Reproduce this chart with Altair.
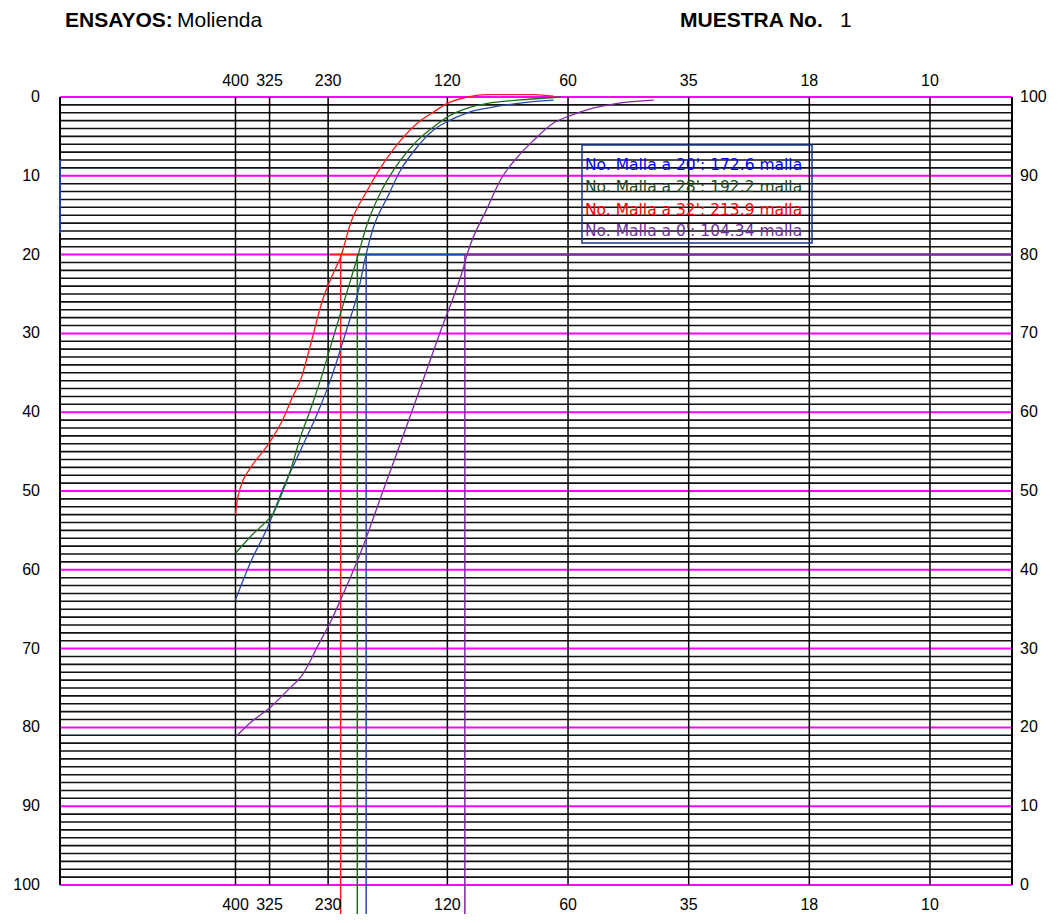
import altair as alt
import pandas as pd

# ---------------- data ----------------
mesh_labels = ["400", "325", "230", "120", "60", "35", "18", "10"]
mesh_microns = [37, 45, 63, 125, 250, 500, 1000, 2000]
x_domain = [13.5, 3204]

series_names = ["20'", "28'", "32'", "0'"]
series_colors = ["#2a48a8", "#1d6e1d", "#ff1a1a", "#7f2aa6"]

blue_um = [37, 40.3, 44.5, 48.8, 53.8, 59.3, 63.9, 70.0, 75.0, 78.1, 81.8, 88.6, 95.5,
           105.3, 115.4, 127.3, 140.4, 157.5, 187.1, 230]
blue_pass = [36.2, 40.9, 45.4, 50.5, 55.2, 59.9, 64.1, 70.4, 75.5, 79.7, 83.5, 87.3, 90.7,
             93.7, 95.8, 97.1, 98.0, 98.6, 99.2, 99.6]

green_um = [37, 40.3, 44.5, 45.8, 47.9, 50.8, 53.8, 56.9, 60.3, 65.7, 71.7, 74.6, 79.0,
            86.6, 95.5, 105.3, 115.4, 127.3, 140.4, 157.5, 187.1, 239.6]
green_pass = [42.1, 44.2, 46.3, 47.0, 49.2, 52.7, 56.9, 60.3, 64.1, 70.4, 76.8, 79.7, 84.0,
              88.6, 92.0, 94.5, 96.2, 97.7, 98.6, 99.2, 99.6, 100]

red_um = [37, 37.3, 38.1, 40.3, 44.5, 48.5, 51.3, 53.8, 56.9, 61.0, 65.0, 67.7, 71.7, 79.0,
          86.6, 95.5, 105.3, 115.4, 125.1, 140.4, 157.5, 205, 230]
red_pass = [47.0, 48.5, 50.5, 52.9, 55.8, 59.0, 61.9, 64.1, 68.5, 74.2, 77.7, 79.7, 84.0, 88.2,
            91.6, 94.5, 96.7, 98.1, 99.2, 100, 100.3, 100.3, 100.1]

purple_um = [37, 40.3, 45.3, 49.9, 54.7, 59.6, 63.9, 67.7, 74.6, 78.6, 85.1, 95.5, 107.2, 120.2,
             137.2, 140.4, 157.5, 169.7, 187.1, 205.1, 230.1, 249.4, 279.8, 332.4, 408.9]
purple_pass = [18.8, 20.6, 22.6, 24.7, 26.9, 30.5, 33.4, 36.2, 41.2, 44.2, 49.1, 56.1, 63.2, 70.3,
               78.4, 80.2, 86.0, 89.5, 92.4, 94.5, 96.7, 97.5, 98.4, 99.2, 99.6]

# P80 markers (size in microns at 80 % passing) and horizontal line start
p80_um = [78.4, 74.5, 67.7, 138.2]
p80_hstart = [78.4, 74.5, 63.9, 138.2]
p80_level = 80

legend_texts = ["No. Malla a 20': 172.6 malla",
                "No. Malla a 28': 192.2 malla",
                "No. Malla a 32': 213.9 malla",
                "No. Malla a 0': 104.34 malla"]
legend_colors = ["#0000ff", "#1f4a1f", "#ff0000", "#7030a0"]

left_labels = [0, 10, 20, 30, 40, 50, 60, 70, 80, 90, 100]      # % retained (top -> bottom)
right_labels = [100, 90, 80, 70, 60, 50, 40, 30, 20, 10, 0]     # % passing (top -> bottom)

# ---------------- tables ----------------
curves = pd.concat([
    pd.DataFrame({"um": blue_um, "p": blue_pass, "s": series_names[0]}),
    pd.DataFrame({"um": green_um, "p": green_pass, "s": series_names[1]}),
    pd.DataFrame({"um": red_um, "p": red_pass, "s": series_names[2]}),
    pd.DataFrame({"um": purple_um, "p": purple_pass, "s": series_names[3]}),
])
mesh_df = pd.DataFrame({"um": mesh_microns, "lab": mesh_labels, "p0": 0, "p1": 100})
lv = list(range(0, 101))
minor_df = pd.DataFrame({"p": [v for v in lv if v % 10], "x0": x_domain[0], "x1": x_domain[1]})
major_df = pd.DataFrame({"p": [v for v in lv if v % 10 == 0], "x0": x_domain[0], "x1": x_domain[1]})
border_df = pd.DataFrame({"um": x_domain, "p0": 0, "p1": 100})
p80 = pd.DataFrame({"s": series_names, "um": p80_um, "um0": p80_hstart,
                    "um1": x_domain[1], "p": p80_level})
p80_h = p80.iloc[[2, 1, 0, 3]].reset_index(drop=True)
p80_h["ord"] = list(range(4))
left_df = pd.DataFrame({"lab": [str(v) for v in left_labels], "p": [100 - v for v in left_labels]})
right_df = pd.DataFrame({"lab": [str(v) for v in right_labels], "p": right_labels})

W, H = 952, 788
xs = alt.Scale(type="log", domain=x_domain, nice=False)
ys = alt.Scale(domain=[0, 100], nice=False, zero=False)
FONT = "Liberation Sans, Arial"
ccol = alt.Color("s:N", scale=alt.Scale(domain=series_names, range=series_colors), legend=None)

X = lambda f: alt.X(f, scale=xs, axis=None)
Y = lambda f: alt.Y(f, scale=ys, axis=None)

grid_minor = alt.Chart(minor_df).mark_rule(color="#111", strokeWidth=1.6).encode(
    y=Y("p:Q"), x=X("x0:Q"), x2="x1:Q")
grid_major = alt.Chart(major_df).mark_rule(color="#ff00ff", strokeWidth=2).encode(
    y=Y("p:Q"), x=X("x0:Q"), x2="x1:Q")
vlines = alt.Chart(mesh_df).mark_rule(color="#000", strokeWidth=1.5).encode(
    x=X("um:Q"), y=Y("p0:Q"), y2="p1:Q")
borders = alt.Chart(border_df).mark_rule(color="#000", strokeWidth=2).encode(
    x=X("um:Q"), y=Y("p0:Q"), y2="p1:Q")
edge_blue = alt.Chart(pd.DataFrame({"um": [x_domain[0]], "p0": [92.0], "p1": [82.7]})).mark_rule(
    color="#1f3d99", strokeWidth=2).encode(x=X("um:Q"), y=Y("p0:Q"), y2="p1:Q")

lines = alt.Chart(curves).mark_line(strokeWidth=1.3, interpolate="monotone").encode(
    x=X("um:Q"), y=Y("p:Q"), color=ccol, detail="s:N")

hrules = alt.Chart(p80_h).mark_rule(strokeWidth=1.5).encode(
    x=X("um0:Q"), x2="um1:Q", y=Y("p:Q"), color=ccol, order="ord:Q")
vrules = alt.Chart(p80).mark_rule(strokeWidth=1.5).encode(
    x=X("um:Q"), y=Y("p:Q"), y2=alt.value(840), color=ccol)

leg_box = alt.Chart(pd.DataFrame({"a": [0]})).mark_rect(
    fill="transparent", stroke="#1a3a8a", strokeWidth=1.5).encode(
    x=alt.value(522), x2=alt.value(752), y=alt.value(48), y2=alt.value(146))
leg_y = [68, 90, 113, 134]
leg_layers = [
    alt.Chart(pd.DataFrame({"t": [legend_texts[i]]})).mark_text(
        align="left", baseline="middle", font="DejaVu Sans, Verdana", fontSize=15.5,
        color=legend_colors[i]).encode(x=alt.value(525), y=alt.value(leg_y[i]), text="t:N")
    for i in range(4)
]

LS = 16
top_lab = alt.Chart(mesh_df).mark_text(font=FONT, fontSize=LS, baseline="middle").encode(
    x=X("um:Q"), y=alt.value(-16), text="lab:N")
bot_lab = alt.Chart(mesh_df).mark_text(font=FONT, fontSize=LS, baseline="middle").encode(
    x=X("um:Q"), y=alt.value(808), text="lab:N")
l_lab = alt.Chart(left_df).mark_text(font=FONT, fontSize=LS, baseline="middle", align="right").encode(
    x=alt.value(-20), y=Y("p:Q"), text="lab:N")
r_lab = alt.Chart(right_df).mark_text(font=FONT, fontSize=LS, baseline="middle", align="left").encode(
    x=alt.value(960), y=Y("p:Q"), text="lab:N")

TF = "Liberation Sans, Arial"
def title_text(txt, xpos, bold, size=20):
    return alt.Chart(pd.DataFrame({"t": [txt]})).mark_text(
        font=TF, fontSize=size, fontWeight="bold" if bold else "normal",
        align="left", baseline="middle").encode(
        x=alt.value(xpos), y=alt.value(-76), text="t:N")

titles = [title_text("ENSAYOS:", 5, True, 21), title_text("Molienda", 117, False, 21),
          title_text("MUESTRA No.", 620, True, 21), title_text("1", 780, False, 21)]

chart = alt.layer(
    grid_minor, grid_major, vlines, borders, edge_blue, hrules, vrules, lines,
    leg_box, *leg_layers, top_lab, bot_lab, l_lab, r_lab, *titles
).properties(
    width=W, height=H,
    autosize=alt.AutoSizeParams(type="none"),
    padding={"left": 52, "top": 89, "right": 40, "bottom": 29},
).configure_view(stroke=None)

chart.save("out.html", embed_options={"renderer": "svg", "actions": False})
